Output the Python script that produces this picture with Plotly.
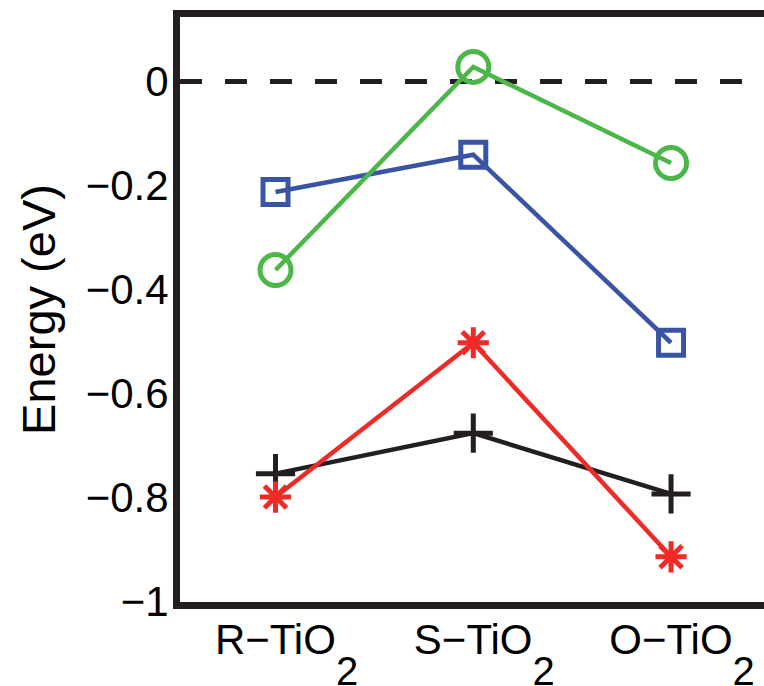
import plotly.graph_objects as go

SUB2 = "<span style='font-size:145px'><sub><span style='font-size:40px'>2</span></sub></span>"
categories = ["R\u2212TiO" + SUB2, "S\u2212TiO" + SUB2, "O\u2212TiO" + SUB2]
x_pos = [1, 2, 3]

green_circle = [-0.363, 0.028, -0.157]
blue_square = [-0.213, -0.141, -0.503]
red_star = [-0.800, -0.503, -0.915]
black_plus = [-0.755, -0.677, -0.794]

y_ticks = [0, -0.2, -0.4, -0.6, -0.8, -1]
y_ticktext = ["0", "\u22120.2", "\u22120.4", "\u22120.6", "\u22120.8", "\u22121"]

FONT = "Liberation Sans, Arial, Helvetica, sans-serif"

fig = go.Figure()

series = [
    (black_plus, "#231F20", "cross-thin-open", 28),
    (red_star, "#EE2B26", "asterisk-open", 26),
    (blue_square, "#3A54A4", "square-open", 25),
    (green_circle, "#4CB749", "circle-open", 31),
]
for vals, col, sym, sz in series:
    fig.add_trace(go.Scatter(
        x=x_pos, y=vals, mode="lines+markers",
        line=dict(color=col, width=4.5),
        marker=dict(symbol=sym, size=sz, color=col, line=dict(color=col, width=5)),
        showlegend=False, cliponaxis=False,
    ))

fig.add_hline(y=0, line=dict(color="#231F20", width=5, dash="22px,23px"), layer="below")

fig.update_layout(
    width=764, height=686,
    margin=dict(l=180, r=0, t=17, b=84),
    plot_bgcolor="white", paper_bgcolor="white",
    font=dict(family=FONT, color="black", size=42),
    xaxis=dict(
        range=[0.517, 3.470], tickvals=x_pos, ticktext=categories,
        showline=True, linecolor="#231F20", linewidth=7, mirror=True,
        showgrid=False, zeroline=False, ticks="", automargin=False,
        tickfont=dict(size=42), ticklabelshift=11, ticklabelstandoff=-5,
    ),
    yaxis=dict(
        range=[-1.002, 0.124], tickvals=y_ticks, ticktext=y_ticktext,
        showline=True, linecolor="#231F20", linewidth=7, mirror=False,
        showgrid=False, zeroline=False, ticks="", automargin=False,
        tickfont=dict(size=42), ticklabelstandoff=-4,
        title=dict(text="Energy (eV)", font=dict(size=47), standoff=18),
    ),
)

fig.write_html("out.html")
